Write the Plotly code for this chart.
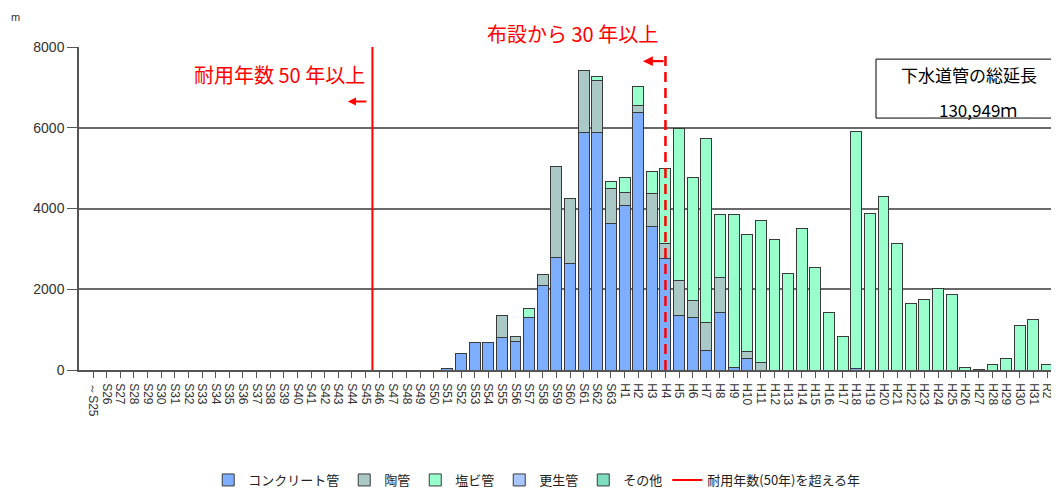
import plotly.graph_objects as go

# Category labels (fiscal years)
labels = (["～S25"] + ["S%d" % n for n in range(26, 64)]
          + ["H%d" % n for n in range(1, 32)] + ["R2"])

# Pipe length laid per year (m)
concrete = [0]*26 + [30, 400, 690, 690, 800, 710, 1310, 2100, 2790, 2640, 5880, 5880, 3620,
                     4080, 6380, 3550, 2750, 1360, 1300, 480, 1430, 70, 280, 0,
                     0, 0, 0, 0, 0, 0, 30, 0, 0, 0, 0, 0, 0, 0, 0, 0, 0, 0, 0, 0, 0, 0]
clay = [0]*26 + [0, 0, 0, 0, 540, 130, 0, 270, 2260, 1620, 1550, 1290, 870,
                 320, 180, 830, 390, 860, 410, 690, 860, 0, 170, 180,
                 0, 0, 0, 0, 0, 0, 0, 0, 0, 0, 0, 0, 0, 0, 0, 0, 0, 0, 0, 0, 0, 0]
pvc = [0]*26 + [0, 0, 0, 0, 0, 0, 210, 0, 0, 0, 0, 100, 180,
                360, 470, 530, 1860, 3750, 3050, 4570, 1560, 3780, 2900, 3520,
                3220, 2400, 3500, 2550, 1430, 840, 5880, 3880, 4290, 3140, 1640, 1750,
                2020, 1870, 70, 20, 130, 280, 1110, 1250, 130]
rehab = [0]*71
other = [0]*71

series_names = ["コンクリート管", "陶管", "塩ビ管", "更生管", "その他"]
series_colors = ["#7EAEFF", "#AAC8C6", "#99FFCC", "#A9C6FF", "#7FDDC2"]
series_values = [concrete, clay, pvc, rehab, other]

total_text = "130,949ｍ"
life_line_pos = 20.5      # between S45 and S46
thirty_line_pos = 42      # H4

x = list(range(len(labels)))
fig = go.Figure()
for name, color, vals in zip(series_names, series_colors, series_values):
    fig.add_trace(go.Bar(
        x=x, y=[v if v else None for v in vals], name=name,
        marker=dict(color=color, line=dict(color="#3a3a3a", width=1)),
        width=0.8,
    ))

fig.add_trace(go.Scatter(
    x=[life_line_pos, life_line_pos], y=[0, 8000], mode="lines",
    line=dict(color="#FF0000", width=2), name="耐用年数(50年)を超える年",
))
fig.add_trace(go.Scatter(
    x=[thirty_line_pos, thirty_line_pos], y=[0, 7880], mode="lines",
    line=dict(color="#FF0000", width=2.5, dash="10px,6px"), showlegend=False,
))

red_font = dict(family="Noto Sans CJK JP", size=20, color="#FF0000")
box_font = dict(family="Noto Sans CJK JP", size=17, color="#000000")
annotations = [
    dict(x=20.1, y=7330, xref="x", yref="y", text="耐用年数 50 年以上", showarrow=False,
         xanchor="right", yanchor="middle", font=red_font),
    dict(x=35.2, y=1.043, xref="x", yref="paper", text="布設から 30 年以上", showarrow=False,
         xanchor="center", yanchor="middle", font=red_font),
    dict(x=18.7, y=6650, xref="x", yref="y", ax=20, ay=0, text="", showarrow=True,
         arrowhead=2, arrowsize=0.9, arrowwidth=1.8, arrowcolor="#FF0000"),
    dict(x=40.35, y=7650, xref="x", yref="y", ax=22, ay=0, text="", showarrow=True,
         arrowhead=2, arrowsize=0.9, arrowwidth=2.2, arrowcolor="#FF0000"),
    dict(x=64.3, y=7330, xref="x", yref="y", text="下水道管の総延長", showarrow=False,
         xanchor="center", yanchor="middle", font=box_font),
    dict(x=64.9, y=6440, xref="x", yref="y", text=total_text, showarrow=False,
         xanchor="center", yanchor="middle", font=box_font),
    dict(xref="paper", yref="paper", x=-0.0654, y=1.093, text="m", showarrow=False,
         xanchor="center", yanchor="middle",
         font=dict(family="Liberation Sans", size=11, color="#333333")),
]

fig.update_layout(
    width=1059, height=500, autosize=False,
    margin=dict(l=71, r=10, t=39, b=138, autoexpand=False),
    plot_bgcolor="white", paper_bgcolor="white",
    barmode="stack", bargap=0.2,
    annotations=annotations,
    shapes=[dict(type="rect", xref="x", yref="y", x0=57.45, x1=70.7, y0=6240, y1=7700,
                 line=dict(color="#000000", width=1), fillcolor="rgba(0,0,0,0)")],
    legend=dict(orientation="h", xref="paper", yref="paper", x=0.468, y=-0.387,
                xanchor="center", yanchor="bottom",
                font=dict(family="Noto Sans CJK JP", size=13, color="#222222"),
                itemwidth=30, traceorder="normal", tracegroupgap=0),
    font=dict(family="Liberation Sans", color="#333333"),
)
fig.update_xaxes(
    range=[-1.03, 70.73], tickmode="array", tickvals=x, ticktext=labels,
    tickangle=90, tickfont=dict(family="Liberation Sans", size=12, color="#333333"),
    showline=True, linecolor="#555555", linewidth=1.5, automargin=False,
    ticks="outside", ticklen=6, tickcolor="#555555", showgrid=False, zeroline=False,
    ticklabelstandoff=3,
)
fig.update_yaxes(
    range=[0, 8000], tickvals=[0, 2000, 4000, 6000, 8000], automargin=False,
    tickfont=dict(family="Liberation Sans", size=14, color="#333333"),
    showline=True, linecolor="#555555", linewidth=1.5,
    ticks="outside", ticklen=10, tickcolor="#555555",
    showgrid=True, gridcolor="#6a6a6a", gridwidth=1.5, zeroline=False,
)

fig.write_html("out.html")
